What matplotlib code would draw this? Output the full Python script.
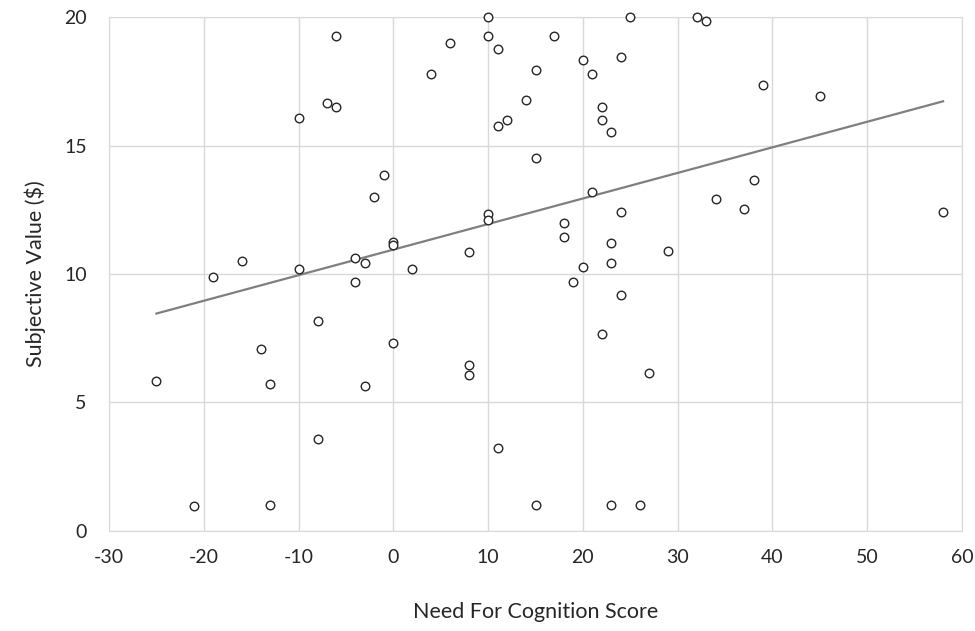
import numpy as np
import matplotlib.pyplot as plt

# Need For Cognition score vs subjective value
nfc = [-25, -21, -19, -16, -14, -13, -13, -10, -10, -8, -8, -7, -6, -6, -4, -4, -3, -3, -2, -1,
       0, 0, 0, 2, 4, 6, 8, 8, 8, 10, 10, 10, 10, 11, 11, 11, 12, 14, 15, 15,
       15, 17, 18, 18, 19, 20, 20, 21, 21, 22, 22, 22, 23, 23, 23, 23, 24, 24, 24, 25,
       26, 27, 29, 32, 33, 34, 37, 38, 39, 45, 58]
value = [5.84, 0.97, 9.9, 10.5, 7.08, 5.72, 1.0, 16.07, 10.2, 8.17, 3.58, 16.65, 19.26, 16.5, 10.62, 9.69, 10.43, 5.64, 13.0, 13.85,
         11.25, 11.13, 7.32, 10.19, 17.8, 19.0, 10.86, 6.46, 6.07, 20.0, 19.26, 12.33, 12.1, 18.75, 15.76, 3.23, 16.0, 16.77, 17.94, 14.5,
         1.0, 19.26, 12.0, 11.44, 9.69, 18.33, 10.27, 17.78, 13.19, 16.5, 16.0, 7.67, 15.53, 11.2, 10.43, 1.0, 18.44, 12.41, 9.18, 20.0,
         1.0, 6.15, 10.9, 20.0, 19.84, 12.92, 12.53, 13.66, 17.35, 16.93, 12.41]

plt.rcParams['font.family'] = ['Lato', 'DejaVu Sans']
plt.rcParams['axes.unicode_minus'] = False

fig = plt.figure(figsize=(9.75, 6.31), dpi=100)
ax = fig.add_axes([0.1118, 0.1585, 0.8749, 0.8145])

x = np.array(nfc)
y = np.array(value)
coef = np.polyfit(x, y, 1)
xl = np.array([x.min(), x.max()])
ax.plot(xl, np.polyval(coef, xl), color='#7f7f7f', lw=1.6, zorder=2)

ax.scatter(x, y, s=38, facecolors='white', edgecolors='#262626', linewidths=1.0, zorder=3, clip_on=False)

ax.set_xlim(-30, 60)
ax.set_ylim(0, 20)
ax.set_xticks(range(-30, 61, 10))
ax.set_yticks(range(0, 21, 5))
ax.grid(True, color='#d9d9d9', lw=1)
ax.set_axisbelow(True)
for s in ax.spines.values():
    s.set_color('#d9d9d9')
ax.tick_params(length=0, labelsize=14, colors='#262626', pad=13)
ax.tick_params(axis='y', pad=16)

ax.set_xlabel('Need For Cognition Score', fontsize=15.5, color='#262626', labelpad=26)
ax.set_ylabel('Subjective Value ($)', fontsize=15.5, color='#262626', labelpad=13)

plt.savefig('out.png', dpi=100)
